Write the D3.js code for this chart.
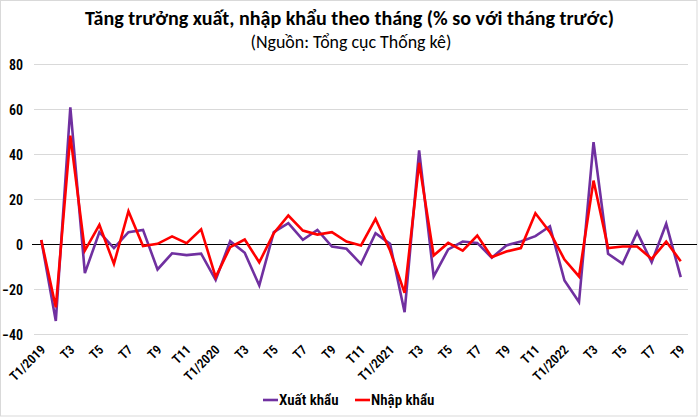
<!DOCTYPE html>
<html><head><meta charset="utf-8">
<script src="https://cdn.jsdelivr.net/npm/d3@7"></script>
<style>
html,body{margin:0;padding:0;background:#fff;}
svg{display:block;}
</style></head>
<body>
<svg id="chart" width="700" height="417"></svg>
<script>
const months = [];
const years = [2019, 2020, 2021, 2022];
years.forEach(y => { for (let m = 1; m <= 12; m++) { if (y === 2022 && m > 9) break; months.push(m === 1 ? `T1/${y}` : `T${m}`); } });

const xuatKhau = [2, -34, 61, -12.7, 5.5, -1.6, 5.5, 6.5, -11.1, -3.9, -4.7, -4.1,
  -15.7, 1.5, -3.7, -18.2, 5.5, 9.5, 2.1, 6.5, -0.9, -1.9, -8.7, 5.0,
  0.3, -30.1, 41.8, -14.2, -2.2, 1.3, 0.7, -5.9, -0.4, 1.3, 3.7, 8.1,
  -16, -25.6, 45.5, -4.1, -8.6, 5.5, -7.9, 9.2, -14.5];
const nhapKhau = [2, -27.9, 48.4, -2.7, 8.7, -8.6, 14.8, -0.7, 0.3, 3.6, 0.6, 6.7,
  -14.5, -1.2, 2.2, -7.9, 5, 12.9, 6.2, 4.4, 5.5, 1.3, -0.4, 11.4,
  -2.7, -21.5, 36.3, -4.9, 0.7, -2.7, 4.0, -5.6, -3.1, -1.6, 13.9, 5.5,
  -6.7, -14.2, 28.4, -1.6, -0.9, -0.9, -6.4, 1.3, -7.4];
const yTicks = [-40, -20, 0, 20, 40, 60, 80];
const seriesNames = ["Xuất khẩu", "Nhập khẩu"];
const seriesColors = ["#7030A0", "#FF0000"];

const svg = d3.select("#chart");
const plot = {left: 34, right: 688, top: 64.5, bottom: 334.5};
const tickFont = "'Liberation Sans Narrow','Roboto Condensed','Arial Narrow',Roboto,sans-serif";
const titleFont = "Carlito, Lato, 'Open Sans', sans-serif";

svg.append("rect").attr("x", 0.5).attr("y", 0.5).attr("width", 696.5).attr("height", 415.5)
  .attr("fill", "#fff").attr("stroke", "#d9d9d9");

function fitText(sel, target) {
  const fs = parseFloat(sel.style("font-size"));
  const w = sel.node().getComputedTextLength();
  if (w > 0) sel.style("font-size", (fs * target / w).toFixed(2) + "px");
}
const title = svg.append("text").attr("x", 349.5).attr("y", 25).attr("text-anchor", "middle")
  .style("font-family", titleFont).style("font-weight", "bold").style("font-size", "18px")
  .attr("fill", "#000").text("Tăng trưởng xuất, nhập khẩu theo tháng (% so với tháng trước)");
fitText(title, 529);
const sub = svg.append("text").attr("x", 351).attr("y", 48).attr("text-anchor", "middle")
  .style("font-family", titleFont).style("font-size", "15px")
  .attr("fill", "#000").text("(Nguồn: Tổng cục Thống kê)");
fitText(sub, 201);

const x = d3.scaleBand().domain(d3.range(months.length)).range([plot.left, plot.right]);
const y = d3.scaleLinear().domain([-40, 80]).range([plot.bottom, plot.top]);
const cx = i => x(i) + x.bandwidth() / 2;

// gridlines
svg.append("g").selectAll("line").data(yTicks.filter(t => t !== 0)).join("line")
  .attr("x1", plot.left).attr("x2", plot.right)
  .attr("y1", d => y(d)).attr("y2", d => y(d))
  .attr("stroke", "#d9d9d9").attr("stroke-width", 1);

// y axis labels
const yAxis = d3.axisLeft(y).tickValues(yTicks).tickSize(0).tickPadding(0);
const gy = svg.append("g").attr("transform", `translate(23,0)`).call(yAxis);
gy.select(".domain").remove();
gy.selectAll("text").style("font-family", tickFont).style("font-size", "14px").style("font-weight", "600")
  .attr("fill", "#000").attr("dy", "0.35em");

// zero line
svg.append("line").attr("x1", 32).attr("x2", 697).attr("y1", y(0)).attr("y2", y(0))
  .attr("stroke", "#000").attr("stroke-width", 1.2);

// x axis labels
const xAxis = d3.axisBottom(x).tickValues(d3.range(0, months.length, 2)).tickSize(0).tickFormat(i => months[i]);
const gx = svg.append("g").attr("transform", `translate(0,${plot.bottom})`).call(xAxis);
gx.select(".domain").remove();
gx.selectAll(".tick text")
  .style("font-family", tickFont).style("font-size", "13px").style("font-weight", "600").attr("fill", "#000")
  .attr("text-anchor", "end").attr("dy", "0").attr("y", 0)
  .attr("transform", "translate(5,16) rotate(-45)");

// lines
const line = d3.line().x((d, i) => cx(i)).y(d => y(d));
[xuatKhau, nhapKhau].forEach((s, k) => {
  svg.append("path").datum(s).attr("d", line).attr("fill", "none")
    .attr("stroke", seriesColors[k]).attr("stroke-width", 2.6).attr("stroke-linejoin", "miter");
});

// legend
const legendX = [263, 355];
seriesNames.forEach((n, k) => {
  const g = svg.append("g").attr("transform", `translate(${legendX[k]},400)`);
  g.append("line").attr("x1", 0).attr("x2", 15).attr("y1", 0).attr("y2", 0)
    .attr("stroke", seriesColors[k]).attr("stroke-width", 2.6);
  g.append("text").attr("x", 16).attr("y", 0).attr("dy", "0.35em")
    .style("font-family", tickFont).style("font-size", "15px").style("font-weight", "600")
    .attr("fill", "#000").text(n);
});
</script>
</body></html>
